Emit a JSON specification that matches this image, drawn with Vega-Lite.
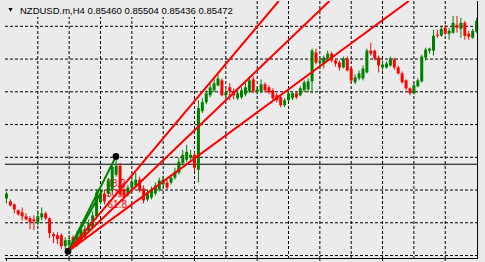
{
"$schema":"https://vega.github.io/schema/vega-lite/v6.json",
"width":485,"height":262,"padding":0,
"autosize":{"type":"fit","contains":"padding"},
"background":"#ebebeb",
"config":{"view":{"stroke":null},"axis":{"disable":true}},
"datasets":{
"candles":[
{"i":0,"o":0.84171,"h":0.84192,"l":0.84156,"c":0.84186},
{"i":1,"o":0.84162,"h":0.84168,"l":0.84147,"c":0.84150},
{"i":2,"o":0.84153,"h":0.84156,"l":0.84126,"c":0.84138},
{"i":3,"o":0.84135,"h":0.84138,"l":0.84120,"c":0.84123},
{"i":4,"o":0.84129,"h":0.84144,"l":0.84105,"c":0.84117},
{"i":5,"o":0.84117,"h":0.84126,"l":0.84105,"c":0.84108},
{"i":6,"o":0.84111,"h":0.84117,"l":0.84078,"c":0.84099},
{"i":7,"o":0.84108,"h":0.84120,"l":0.84075,"c":0.84102},
{"i":8,"o":0.84096,"h":0.84135,"l":0.84090,"c":0.84117},
{"i":9,"o":0.84114,"h":0.84144,"l":0.84105,"c":0.84126},
{"i":10,"o":0.84126,"h":0.84132,"l":0.84105,"c":0.84111},
{"i":11,"o":0.84111,"h":0.84114,"l":0.84051,"c":0.84066},
{"i":12,"o":0.84063,"h":0.84069,"l":0.84036,"c":0.84057},
{"i":13,"o":0.84060,"h":0.84069,"l":0.84033,"c":0.84048},
{"i":14,"o":0.84060,"h":0.84066,"l":0.84018,"c":0.84027},
{"i":15,"o":0.84027,"h":0.84054,"l":0.84018,"c":0.84045},
{"i":16,"o":0.84030,"h":0.84060,"l":0.84012,"c":0.84045},
{"i":17,"o":0.84054,"h":0.84060,"l":0.84024,"c":0.84030},
{"i":18,"o":0.84030,"h":0.84072,"l":0.84024,"c":0.84060},
{"i":19,"o":0.84048,"h":0.84090,"l":0.84042,"c":0.84078},
{"i":20,"o":0.84054,"h":0.84090,"l":0.84048,"c":0.84078},
{"i":21,"o":0.84072,"h":0.84108,"l":0.84066,"c":0.84096},
{"i":22,"o":0.84084,"h":0.84132,"l":0.84078,"c":0.84120},
{"i":23,"o":0.84117,"h":0.84198,"l":0.84108,"c":0.84189},
{"i":24,"o":0.84159,"h":0.84204,"l":0.84153,"c":0.84186},
{"i":25,"o":0.84186,"h":0.84198,"l":0.84153,"c":0.84162},
{"i":26,"o":0.84186,"h":0.84234,"l":0.84177,"c":0.84225},
{"i":27,"o":0.84198,"h":0.84276,"l":0.84189,"c":0.84267},
{"i":28,"o":0.84243,"h":0.84297,"l":0.84237,"c":0.84270},
{"i":29,"o":0.84270,"h":0.84279,"l":0.84174,"c":0.84183},
{"i":30,"o":0.84198,"h":0.84210,"l":0.84168,"c":0.84180},
{"i":31,"o":0.84183,"h":0.84213,"l":0.84177,"c":0.84204},
{"i":32,"o":0.84204,"h":0.84234,"l":0.84198,"c":0.84222},
{"i":33,"o":0.84210,"h":0.84249,"l":0.84204,"c":0.84228},
{"i":34,"o":0.84228,"h":0.84237,"l":0.84189,"c":0.84195},
{"i":35,"o":0.84201,"h":0.84210,"l":0.84156,"c":0.84165},
{"i":36,"o":0.84168,"h":0.84195,"l":0.84162,"c":0.84186},
{"i":37,"o":0.84174,"h":0.84207,"l":0.84168,"c":0.84198},
{"i":38,"o":0.84186,"h":0.84219,"l":0.84180,"c":0.84210},
{"i":39,"o":0.84198,"h":0.84234,"l":0.84192,"c":0.84225},
{"i":40,"o":0.84213,"h":0.84240,"l":0.84207,"c":0.84228},
{"i":41,"o":0.84219,"h":0.84228,"l":0.84198,"c":0.84204},
{"i":42,"o":0.84219,"h":0.84243,"l":0.84213,"c":0.84234},
{"i":43,"o":0.84234,"h":0.84264,"l":0.84228,"c":0.84252},
{"i":44,"o":0.84249,"h":0.84294,"l":0.84243,"c":0.84282},
{"i":45,"o":0.84279,"h":0.84318,"l":0.84273,"c":0.84303},
{"i":46,"o":0.84288,"h":0.84333,"l":0.84282,"c":0.84312},
{"i":47,"o":0.84294,"h":0.84318,"l":0.84288,"c":0.84303},
{"i":48,"o":0.84303,"h":0.84312,"l":0.84252,"c":0.84264},
{"i":49,"o":0.84258,"h":0.84468,"l":0.84219,"c":0.84444},
{"i":50,"o":0.84435,"h":0.84474,"l":0.84429,"c":0.84462},
{"i":51,"o":0.84462,"h":0.84498,"l":0.84456,"c":0.84489},
{"i":52,"o":0.84483,"h":0.84516,"l":0.84477,"c":0.84507},
{"i":53,"o":0.84498,"h":0.84534,"l":0.84492,"c":0.84519},
{"i":54,"o":0.84513,"h":0.84546,"l":0.84510,"c":0.84534},
{"i":55,"o":0.84528,"h":0.84534,"l":0.84480,"c":0.84483},
{"i":56,"o":0.84483,"h":0.84501,"l":0.84477,"c":0.84492},
{"i":57,"o":0.84507,"h":0.84519,"l":0.84468,"c":0.84495},
{"i":58,"o":0.84495,"h":0.84504,"l":0.84471,"c":0.84483},
{"i":59,"o":0.84474,"h":0.84498,"l":0.84468,"c":0.84489},
{"i":60,"o":0.84477,"h":0.84507,"l":0.84471,"c":0.84498},
{"i":61,"o":0.84486,"h":0.84528,"l":0.84480,"c":0.84507},
{"i":62,"o":0.84495,"h":0.84534,"l":0.84489,"c":0.84528},
{"i":63,"o":0.84531,"h":0.84540,"l":0.84489,"c":0.84495},
{"i":64,"o":0.84492,"h":0.84510,"l":0.84486,"c":0.84501},
{"i":65,"o":0.84495,"h":0.84531,"l":0.84489,"c":0.84516},
{"i":66,"o":0.84516,"h":0.84522,"l":0.84492,"c":0.84498},
{"i":67,"o":0.84507,"h":0.84513,"l":0.84486,"c":0.84492},
{"i":68,"o":0.84498,"h":0.84504,"l":0.84468,"c":0.84474},
{"i":69,"o":0.84483,"h":0.84489,"l":0.84462,"c":0.84468},
{"i":70,"o":0.84477,"h":0.84483,"l":0.84447,"c":0.84453},
{"i":71,"o":0.84453,"h":0.84474,"l":0.84447,"c":0.84468},
{"i":72,"o":0.84468,"h":0.84498,"l":0.84465,"c":0.84489},
{"i":73,"o":0.84474,"h":0.84495,"l":0.84468,"c":0.84489},
{"i":74,"o":0.84489,"h":0.84495,"l":0.84471,"c":0.84477},
{"i":75,"o":0.84483,"h":0.84510,"l":0.84480,"c":0.84504},
{"i":76,"o":0.84498,"h":0.84528,"l":0.84492,"c":0.84522},
{"i":77,"o":0.84501,"h":0.84534,"l":0.84492,"c":0.84525},
{"i":78,"o":0.84525,"h":0.84624,"l":0.84489,"c":0.84618},
{"i":79,"o":0.84612,"h":0.84624,"l":0.84576,"c":0.84582},
{"i":80,"o":0.84582,"h":0.84597,"l":0.84564,"c":0.84588},
{"i":81,"o":0.84579,"h":0.84603,"l":0.84564,"c":0.84597},
{"i":82,"o":0.84594,"h":0.84618,"l":0.84588,"c":0.84609},
{"i":83,"o":0.84609,"h":0.84615,"l":0.84582,"c":0.84588},
{"i":84,"o":0.84588,"h":0.84594,"l":0.84570,"c":0.84579},
{"i":85,"o":0.84582,"h":0.84588,"l":0.84558,"c":0.84567},
{"i":86,"o":0.84567,"h":0.84600,"l":0.84564,"c":0.84594},
{"i":87,"o":0.84594,"h":0.84600,"l":0.84555,"c":0.84558},
{"i":88,"o":0.84564,"h":0.84570,"l":0.84519,"c":0.84528},
{"i":89,"o":0.84522,"h":0.84546,"l":0.84516,"c":0.84537},
{"i":90,"o":0.84534,"h":0.84558,"l":0.84528,"c":0.84549},
{"i":91,"o":0.84534,"h":0.84573,"l":0.84528,"c":0.84564},
{"i":92,"o":0.84552,"h":0.84624,"l":0.84549,"c":0.84618},
{"i":93,"o":0.84618,"h":0.84642,"l":0.84603,"c":0.84609},
{"i":94,"o":0.84618,"h":0.84621,"l":0.84588,"c":0.84594},
{"i":95,"o":0.84597,"h":0.84603,"l":0.84552,"c":0.84573},
{"i":96,"o":0.84567,"h":0.84588,"l":0.84558,"c":0.84576},
{"i":97,"o":0.84567,"h":0.84585,"l":0.84564,"c":0.84579},
{"i":98,"o":0.84573,"h":0.84600,"l":0.84570,"c":0.84594},
{"i":99,"o":0.84591,"h":0.84597,"l":0.84561,"c":0.84567},
{"i":100,"o":0.84567,"h":0.84573,"l":0.84546,"c":0.84549},
{"i":101,"o":0.84549,"h":0.84555,"l":0.84519,"c":0.84522},
{"i":102,"o":0.84528,"h":0.84531,"l":0.84498,"c":0.84504},
{"i":103,"o":0.84504,"h":0.84507,"l":0.84483,"c":0.84489},
{"i":104,"o":0.84489,"h":0.84519,"l":0.84486,"c":0.84513},
{"i":105,"o":0.84510,"h":0.84534,"l":0.84507,"c":0.84528},
{"i":106,"o":0.84525,"h":0.84606,"l":0.84522,"c":0.84600},
{"i":107,"o":0.84597,"h":0.84627,"l":0.84588,"c":0.84621},
{"i":108,"o":0.84618,"h":0.84627,"l":0.84609,"c":0.84624},
{"i":109,"o":0.84618,"h":0.84681,"l":0.84603,"c":0.84663},
{"i":110,"o":0.84666,"h":0.84681,"l":0.84657,"c":0.84663},
{"i":111,"o":0.84663,"h":0.84690,"l":0.84660,"c":0.84684},
{"i":112,"o":0.84687,"h":0.84696,"l":0.84666,"c":0.84669},
{"i":113,"o":0.84669,"h":0.84687,"l":0.84651,"c":0.84678},
{"i":114,"o":0.84672,"h":0.84723,"l":0.84669,"c":0.84702},
{"i":115,"o":0.84696,"h":0.84723,"l":0.84672,"c":0.84687},
{"i":116,"o":0.84684,"h":0.84717,"l":0.84657,"c":0.84702},
{"i":117,"o":0.84702,"h":0.84708,"l":0.84651,"c":0.84663},
{"i":118,"o":0.84669,"h":0.84678,"l":0.84651,"c":0.84660},
{"i":119,"o":0.84657,"h":0.84684,"l":0.84654,"c":0.84678},
{"i":120,"o":0.84675,"h":0.84717,"l":0.84672,"c":0.84708}
],
"vgrid":[{"i":8},{"i":16},{"i":24},{"i":32},{"i":40},{"i":48},{"i":56},{"i":64},{"i":72},{"i":80},{"i":88},{"i":96},{"i":104},{"i":112}],
"hgrid":[{"p":0.846915},{"p":0.845925},{"p":0.844935},{"p":0.843945},{"p":0.842955},{"p":0.841965},{"p":0.840975},{"p":0.839985}],
"ticks":[{"i":0},{"i":16},{"i":32},{"i":48},{"i":64},{"i":80},{"i":96},{"i":112}],
"fan":[{"lv":"38.2","i":15.7,"p":0.84011},{"lv":"38.2","i":69.5,"p":0.84768},{"lv":"50.0","i":15.7,"p":0.84011},{"lv":"50.0","i":82.45,"p":0.84768},{"lv":"61.8","i":15.7,"p":0.84011},{"lv":"61.8","i":102.7,"p":0.84768}],
"fanlabels":[{"t":"38.2","i":25.45,"p":0.84207},{"t":"50.0","i":25.45,"p":0.84174},{"t":"61.8","i":25.8,"p":0.84141}],
"trend":[{"id":"a","i":15.7,"p":0.84011},{"id":"a","i":27.95,"p":0.84298},{"id":"b","i":15.7,"p":0.84011},{"id":"b","i":24.4,"p":0.84195}],
"anchors":[{"i":15.7,"p":0.84011},{"i":27.95,"p":0.84298}]
},
"layer":[
{"data":{"name":"hgrid"},"mark":{"type":"rule","color":"#000000","strokeWidth":1,"strokeDash":[3,2]},
 "encoding":{"y":{"field":"p","type":"quantitative","axis":null,"scale":{"domain":[0.83982,0.84768],"nice":false,"zero":false}},
  "x":{"datum":-0.375,"type":"quantitative","axis":null,"scale":{"domain":[-0.375,120.875],"nice":false,"zero":false}},"x2":{"datum":120.25}}},
{"data":{"name":"vgrid"},"mark":{"type":"rule","color":"#000000","strokeWidth":1,"strokeDash":[3,2]},
 "encoding":{"x":{"field":"i","type":"quantitative","axis":null},"y":{"datum":0.84768,"type":"quantitative","axis":null},"y2":{"datum":0.839895}}},
{"data":{"values":[{}]},"mark":{"type":"rect","color":"#ebebeb"},
 "encoding":{"x":{"datum":-0.375,"type":"quantitative","axis":null},"x2":{"datum":57.125},"y":{"datum":0.84768,"type":"quantitative","axis":null},"y2":{"datum":0.8472}}},
{"data":{"values":[{}]},"mark":{"type":"rule","color":"#000000","strokeWidth":1},
 "encoding":{"y":{"datum":0.842745,"type":"quantitative","axis":null},"x":{"datum":-0.375,"type":"quantitative","axis":null},"x2":{"datum":120.25}}},
{"data":{"name":"fanlabels"},"mark":{"type":"text","color":"#ff0000","font":"Liberation Sans","fontSize":10,"align":"left","baseline":"alphabetic"},
 "encoding":{"x":{"field":"i","type":"quantitative","axis":null},"y":{"field":"p","type":"quantitative","axis":null},"text":{"field":"t"}}},
{"data":{"name":"candles"},"mark":{"type":"rule","strokeWidth":1},
 "encoding":{"x":{"field":"i","type":"quantitative","axis":null},"y":{"field":"l","type":"quantitative","axis":null},"y2":{"field":"h"},
  "color":{"condition":{"test":"datum.c >= datum.o","value":"#008000"},"value":"#ff0000"}}},
{"data":{"name":"candles"},"mark":{"type":"bar","width":3},
 "encoding":{"x":{"field":"i","type":"quantitative","axis":null},"y":{"field":"o","type":"quantitative","axis":null},"y2":{"field":"c"},
  "color":{"condition":{"test":"datum.c >= datum.o","value":"#008000"},"value":"#ff0000"}}},
{"data":{"name":"trend"},"mark":{"type":"line","color":"#008000","strokeWidth":2},
 "encoding":{"x":{"field":"i","type":"quantitative","axis":null},"y":{"field":"p","type":"quantitative","axis":null},"detail":{"field":"id"},"order":{"field":"i"}}},
{"data":{"name":"fan"},"mark":{"type":"line","color":"#ff0000","strokeWidth":2,"clip":true},
 "encoding":{"x":{"field":"i","type":"quantitative","axis":null},"y":{"field":"p","type":"quantitative","axis":null},"detail":{"field":"lv"},"order":{"field":"i"}}},
{"data":{"name":"anchors"},"mark":{"type":"point","filled":true,"color":"#000000","size":45,"opacity":1},
 "encoding":{"x":{"field":"i","type":"quantitative","axis":null},"y":{"field":"p","type":"quantitative","axis":null}}},
{"data":{"values":[{}]},"mark":{"type":"rule","color":"#000000","strokeWidth":1},
 "encoding":{"y":{"datum":0.839895,"type":"quantitative","axis":null},"x":{"datum":-0.375,"type":"quantitative","axis":null},"x2":{"datum":120.375}}},
{"data":{"values":[{}]},"mark":{"type":"rule","color":"#000000","strokeWidth":1},
 "encoding":{"x":{"datum":120.25,"type":"quantitative","axis":null},"y":{"datum":0.84768,"type":"quantitative","axis":null},"y2":{"datum":0.839895}}},
{"data":{"name":"ticks"},"mark":{"type":"rule","color":"#000000","strokeWidth":1},
 "encoding":{"x":{"field":"i","type":"quantitative","axis":null},"y":{"datum":0.839895,"type":"quantitative","axis":null},"y2":{"datum":0.83982}}},
{"data":{"values":[{}]},"mark":{"type":"text","color":"#000000","font":"Liberation Sans","fontSize":9.5,"align":"left","baseline":"alphabetic"},
 "encoding":{"x":{"datum":3.45,"type":"quantitative","axis":null},"y":{"datum":0.84728,"type":"quantitative","axis":null},"text":{"value":"NZDUSD.m,H4 0.85460 0.85504 0.85436 0.85472"}}},
{"data":{"values":[{}]},"mark":{"type":"point","shape":"triangle-down","filled":true,"color":"#000000","size":18,"opacity":1},
 "encoding":{"x":{"datum":1.05,"type":"quantitative","axis":null},"y":{"datum":0.84741,"type":"quantitative","axis":null}}}
]
}
